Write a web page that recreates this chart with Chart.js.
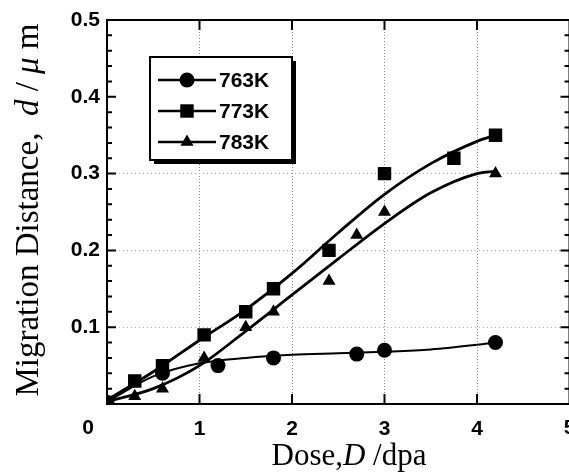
<!DOCTYPE html>
<html lang="en">
<head>
    <meta charset="UTF-8">
    <title>Migration Distance vs Dose</title>
    <script src="https://cdn.jsdelivr.net/npm/chart.js"></script>
    <style>
        html, body { margin: 0; padding: 0; background: #fff; overflow: hidden; }
        /* slightly wider than the window so the frame's right edge and the "5" reach the edge */
        #wrap { width: 579px; height: 473px; }
    </style>
</head>
<body>
<div id="wrap"><canvas id="chart"></canvas></div>
<script>
    // measured points (dose in dpa, distance in um)
    const dose763 = [0, 0.6, 1.2, 1.8, 2.7, 3.0, 4.2];
    const dist763 = [0.002, 0.04, 0.05, 0.06, 0.065, 0.07, 0.08];
    const dose773 = [0, 0.3, 0.6, 1.05, 1.5, 1.8, 2.4, 3.0, 3.75, 4.2];
    const dist773 = [0.002, 0.03, 0.05, 0.09, 0.12, 0.15, 0.2, 0.3, 0.32, 0.35];
    const dose783 = [0, 0.3, 0.6, 1.05, 1.5, 1.8, 2.4, 2.7, 3.0, 4.2];
    const dist783 = [0.002, 0.01, 0.02, 0.06, 0.1, 0.12, 0.16, 0.22, 0.25, 0.3];

    // fitted curves
    const fitDose = [0, 0.5, 1, 1.5, 2, 2.5, 3, 3.5, 4, 4.2];
    const fit763 = [0.003, 0.036, 0.053, 0.06, 0.064, 0.066, 0.068, 0.071, 0.077, 0.08];
    const fit773 = [0.005, 0.042, 0.083, 0.123, 0.17, 0.223, 0.273, 0.313, 0.342, 0.35];
    const fit783 = [0.003, 0.02, 0.05, 0.095, 0.142, 0.189, 0.235, 0.275, 0.3, 0.303];

    const seriesNames = ['763K', '773K', '783K'];
    const markerStyles = ['circle', 'rect', 'triangle'];
    const markerRadius = [7.5, 9.5, 7.5];

    const xy = (xs, ys) => xs.map((x, i) => ({ x: x, y: ys[i] }));

    const fitLine = (data, width) => ({
        type: 'line',
        data: data,
        borderColor: '#000',
        borderWidth: width,
        pointRadius: 0,
        cubicInterpolationMode: 'monotone',
        fill: false
    });
    const markers = (data, i) => ({
        type: 'scatter',
        data: data,
        showLine: false,
        pointStyle: markerStyles[i],
        pointRadius: markerRadius[i],
        pointBackgroundColor: '#000',
        pointBorderColor: '#000',
        pointBorderWidth: 0
    });

    const sansFamily = '"Liberation Sans", Arial, sans-serif';
    const serif = '"Liberation Serif", "Times New Roman", serif';

    // frame, inward ticks, axis titles, corner labels, legend
    const decor = {
        id: 'decor',
        afterDraw(chart) {
            const ctx = chart.ctx;
            const a = chart.chartArea;
            const xs = chart.scales.x, ys = chart.scales.y;
            ctx.save();
            ctx.strokeStyle = '#000';
            ctx.lineWidth = 2;
            ctx.strokeRect(a.left, a.top, a.right - a.left, a.bottom - a.top);

            // y ticks every 0.02, major every 0.1
            for (let k = 1; k < 25; k++) {
                const py = ys.getPixelForValue(k * 0.02);
                const len = k % 5 === 0 ? 9 : 5;
                ctx.beginPath();
                ctx.moveTo(a.left, py); ctx.lineTo(a.left + len, py);
                ctx.moveTo(a.right, py); ctx.lineTo(a.right - len, py);
                ctx.stroke();
            }
            for (let k = 1; k < 5; k++) {
                const px = xs.getPixelForValue(k);
                ctx.beginPath();
                ctx.moveTo(px, a.bottom); ctx.lineTo(px, a.bottom - 10);
                ctx.moveTo(px, a.top); ctx.lineTo(px, a.top + 10);
                ctx.stroke();
            }

            // corner labels "0" and "5" (the 5 runs off the page edge)
            ctx.fillStyle = '#000';
            ctx.font = 'bold 21px ' + sansFamily;
            ctx.textAlign = 'center';
            ctx.textBaseline = 'middle';
            ctx.fillText('0', a.left - 19, a.bottom + 24);
            ctx.fillText('5', xs.getPixelForValue(5), a.bottom + 24);

            // axis titles with italic symbols
            const drawParts = (parts, size) => {
                let total = 0;
                parts.forEach(p => {
                    ctx.font = (p[1] ? 'italic ' : '') + size + 'px ' + serif;
                    total += ctx.measureText(p[0]).width;
                });
                let x = -total / 2;
                ctx.textAlign = 'left';
                parts.forEach(p => {
                    ctx.font = (p[1] ? 'italic ' : '') + size + 'px ' + serif;
                    ctx.fillText(p[0], x, 0);
                    x += ctx.measureText(p[0]).width;
                });
            };
            ctx.textBaseline = 'alphabetic';
            ctx.save();
            ctx.translate(349, 465);
            drawParts([['Dose,', false], ['D', true], [' /dpa', false]], 31);
            ctx.restore();
            ctx.save();
            ctx.translate(38, 210);
            ctx.rotate(-Math.PI / 2);
            drawParts([['Migration Distance,  ', false], ['d', true], [' / ', false], ['\u03bc', true], [' m', false]], 33);
            ctx.restore();

            // legend box with shadow
            const bx = 150, by = 57, bw = 142, bh = 103;
            ctx.fillStyle = '#000';
            ctx.fillRect(bx + 4, by + 4, bw, bh);
            ctx.fillStyle = '#fff';
            ctx.fillRect(bx, by, bw, bh);
            ctx.lineWidth = 2;
            ctx.strokeRect(bx, by, bw, bh);
            ctx.font = 'bold 21px ' + sansFamily;
            ctx.textBaseline = 'middle';
            ctx.textAlign = 'left';
            ctx.fillStyle = '#000';
            seriesNames.forEach((name, i) => {
                const ly = 80 + i * 31;
                ctx.lineWidth = 2.5;
                ctx.beginPath();
                ctx.moveTo(158, ly); ctx.lineTo(216, ly);
                ctx.stroke();
                Chart.helpers.drawPoint(ctx, { pointStyle: markerStyles[i], radius: markerRadius[i], borderWidth: 0 }, 187, ly);
                ctx.fillText(name, 219, ly + 1);
            });
            ctx.restore();
        }
    };

    new Chart(document.getElementById('chart'), {
        type: 'scatter',
        data: {
            datasets: [
                fitLine(xy(fitDose, fit763), 2),
                fitLine(xy(fitDose, fit773), 2.8),
                fitLine(xy(fitDose, fit783), 2.8),
                markers(xy(dose763, dist763), 0),
                markers(xy(dose773, dist773), 1),
                markers(xy(dose783, dist783), 2)
            ]
        },
        options: {
            animation: false,
            responsive: true,
            maintainAspectRatio: false,
            layout: { padding: { top: 20, right: 1, left: 0, bottom: 0 } },
            plugins: { legend: { display: false }, tooltip: { enabled: false } },
            scales: {
                x: {
                    type: 'linear',
                    min: 0,
                    max: 5,
                    afterFit: s => { s.height = 69; s.paddingRight = 0; s.paddingLeft = 0; },
                    ticks: {
                        stepSize: 1,
                        padding: 13,
                        color: '#000',
                        font: { family: sansFamily, size: 21, weight: 'bold' },
                        callback: v => (v === 0 || v === 5) ? '' : v
                    },
                    grid: {
                        drawTicks: false,
                        color: c => (c.tick && c.tick.value > 0 && c.tick.value < 5) ? '#8a8a8a' : 'rgba(0,0,0,0)',
                        lineWidth: 1
                    },
                    border: { display: false, dash: [1, 2] }
                },
                y: {
                    min: 0,
                    max: 0.5,
                    afterFit: s => { s.width = 107; s.paddingTop = 0; s.paddingBottom = 0; },
                    ticks: {
                        stepSize: 0.1,
                        padding: 7,
                        color: '#000',
                        font: { family: sansFamily, size: 21, weight: 'bold' },
                        callback: v => v === 0 ? '' : v.toFixed(1)
                    },
                    grid: {
                        drawTicks: false,
                        color: c => (c.tick && c.tick.value > 0.05 && c.tick.value < 0.35) ? '#b5b5b5' : 'rgba(0,0,0,0)',
                        lineWidth: 1
                    },
                    border: { display: false, dash: [1, 3] }
                }
            }
        },
        plugins: [decor]
    });
</script>
</body>
</html>
